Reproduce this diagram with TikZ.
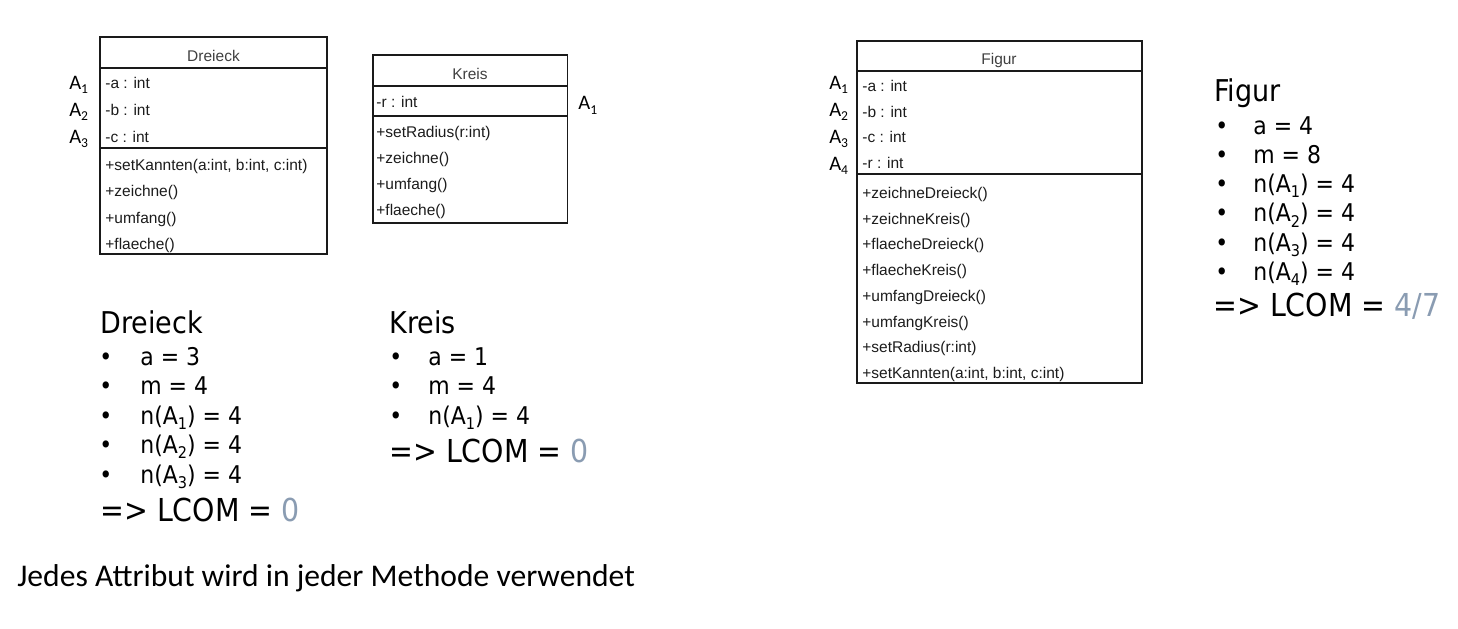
\documentclass[tikz,border=0pt]{standalone}
\usepackage{fontspec}
\setmainfont{Liberation Sans}
\newfontfamily\umlfont{Liberation Sans}
\newfontfamily\tahfont{DejaVu Sans Condensed}
\newfontfamily\calfont{Carlito}
\newcommand\lsub[1]{\raisebox{-0.22em}{\scalebox{0.66}{#1}}}
\definecolor{umltext}{HTML}{1C1C1C}
\definecolor{umlhead}{HTML}{404040}
\definecolor{umlborder}{HTML}{1A1A1A}
\definecolor{lcomblue}{HTML}{8A9CB2}
\tikzset{
  umlbox/.style={draw=umlborder, line width=0.9pt},
  umlsep/.style={draw=umlborder, line width=0.9pt},
  umlrow/.style={anchor=base west, inner sep=0pt, font=\umlfont\fontsize{7.75}{9}\selectfont, text=umltext},
  umlhead/.style={anchor=base, inner sep=0pt, font=\umlfont\fontsize{7.75}{9}\selectfont, text=umlhead},
  alabel/.style={anchor=base east, inner sep=0pt, font=\calfont\fontsize{10.3}{12}\selectfont},
  alabelw/.style={anchor=base west, inner sep=0pt, font=\calfont\fontsize{10.3}{12}\selectfont},
  ttl/.style={anchor=base west, inner sep=0pt, font=\tahfont\fontsize{15}{18}\selectfont},
  itm/.style={anchor=base west, inner sep=0pt, font=\tahfont\fontsize{12.2}{14}\selectfont},
  bul/.style={anchor=base west, inner sep=0pt, font=\tahfont\fontsize{12.2}{14}\selectfont},
  lcom/.style={anchor=base west, inner sep=0pt, font=\tahfont\fontsize{15.8}{18}\selectfont},
  note/.style={anchor=base west, inner sep=0pt, font=\calfont\fontsize{15.8}{18}\selectfont}
}
\begin{document}
\begin{tikzpicture}[x=0.5pt, y=-0.5pt]
\useasboundingbox[fill=white] (0,0) rectangle (1458,628);

% ---------- Dreieck UML ----------
\draw[umlbox] (100,37.3) rectangle (327,254);
\draw[umlsep] (100,67.7) -- (327,67.7);
\draw[umlsep] (100,148.3) -- (327,148.3);
\node[umlhead] (dh) at (213.5,61.7) {Dreieck};
\node[umlrow] (da) at (105,88.5) {-a : int};
\node[umlrow] (db) at (105,115.3) {-b : int};
\node[umlrow] (dc) at (105,142.1) {-c : int};
\node[umlrow] (dm1) at (105,170.5) {+setKannten(a:int, b:int, c:int)};
\node[umlrow] (dm2) at (105,196.9) {+zeichne()};
\node[umlrow] (dm3) at (105,223.3) {+umfang()};
\node[umlrow] (dm4) at (105,249.7) {+flaeche()};
\node[alabel] (dA1) at (88.5,89.3) {A\lsub{1}};
\node[alabel] (dA2) at (88.5,116) {A\lsub{2}};
\node[alabel] (dA3) at (88.5,143) {A\lsub{3}};

% ---------- Kreis UML ----------
\draw[umlbox] (372.7,55) rectangle (567.5,223);
\draw[umlsep] (372.7,86) -- (567.5,86);
\draw[umlsep] (372.7,116) -- (567.5,116);
\node[umlhead] (kh) at (470,79.3) {Kreis};
\node[umlrow] (kr) at (376,107.5) {-r : int};
\node[umlrow] (km1) at (376,137.3) {+setRadius(r:int)};
\node[umlrow] (km2) at (376,163.5) {+zeichne()};
\node[umlrow] (km3) at (376,189.7) {+umfang()};
\node[umlrow] (km4) at (376,215.9) {+flaeche()};
\node[alabelw] (kA1) at (578,109.5) {A\lsub{1}};

% ---------- Figur UML ----------
\draw[umlbox] (856.7,40.7) rectangle (1141.7,382.7);
\draw[umlsep] (856.7,70.7) -- (1141.7,70.7);
\draw[umlsep] (856.7,174) -- (1141.7,174);
\node[umlhead] (fh) at (999,64) {Figur};
\node[umlrow] (fa) at (862,91.5) {-a : int};
\node[umlrow] (fb) at (862,117.1) {-b : int};
\node[umlrow] (fc) at (862,142.7) {-c : int};
\node[umlrow] (fr) at (862,168.3) {-r : int};
\node[umlrow] (fm1) at (862,198.5) {+zeichneDreieck()};
\node[umlrow] (fm2) at (862,224.2) {+zeichneKreis()};
\node[umlrow] (fm3) at (862,249.9) {+flaecheDreieck()};
\node[umlrow] (fm4) at (862,275.6) {+flaecheKreis()};
\node[umlrow] (fm5) at (862,301.3) {+umfangDreieck()};
\node[umlrow] (fm6) at (862,327.0) {+umfangKreis()};
\node[umlrow] (fm7) at (862,352.7) {+setRadius(r:int)};
\node[umlrow] (fm8) at (862,378.4) {+setKannten(a:int, b:int, c:int)};
\node[alabel] (fA1) at (848.5,89) {A\lsub{1}};
\node[alabel] (fA2) at (848.5,116) {A\lsub{2}};
\node[alabel] (fA3) at (848.5,143) {A\lsub{3}};
\node[alabel] (fA4) at (848.5,170) {A\lsub{4}};

% ---------- Dreieck metrics ----------
\node[ttl] (dt) at (100,333.3) {Dreieck};
\node[bul] (db1) at (99,365) {•};
\node[itm] (di1) at (140,365) {a = 3};
\node[bul] (db2) at (99,394.5) {•};
\node[itm] (di2) at (140,394.5) {m = 4};
\node[bul] (db3) at (99,424) {•};
\node[itm] (di3) at (140,424) {n(A\lsub{1}) = 4};
\node[bul] (db4) at (99,453.5) {•};
\node[itm] (di4) at (140,453.5) {n(A\lsub{2}) = 4};
\node[bul] (db5) at (99,483.3) {•};
\node[itm] (di5) at (140,483.3) {n(A\lsub{3}) = 4};
\node[lcom] (dl) at (100,521.7) {=> LCOM = \textcolor{lcomblue}{0}};

% ---------- Kreis metrics ----------
\node[ttl] (kt) at (389,333.3) {Kreis};
\node[bul] (kb1) at (389,365) {•};
\node[itm] (ki1) at (428,365) {a = 1};
\node[bul] (kb2) at (389,394.5) {•};
\node[itm] (ki2) at (428,394.5) {m = 4};
\node[bul] (kb3) at (389,424) {•};
\node[itm] (ki3) at (428,424) {n(A\lsub{1}) = 4};
\node[lcom] (kl) at (389,462) {=> LCOM = \textcolor{lcomblue}{0}};

% ---------- Figur metrics ----------
\node[ttl] (ft) at (1214,101.7) {Figur};
\node[bul] (fb1) at (1215,134) {•};
\node[itm] (fi1) at (1253,134) {a = 4};
\node[bul] (fb2) at (1215,163.3) {•};
\node[itm] (fi2) at (1253,163.3) {m = 8};
\node[bul] (fb3) at (1215,192.6) {•};
\node[itm] (fi3) at (1253,192.6) {n(A\lsub{1}) = 4};
\node[bul] (fb4) at (1215,221.9) {•};
\node[itm] (fi4) at (1253,221.9) {n(A\lsub{2}) = 4};
\node[bul] (fb5) at (1215,251.2) {•};
\node[itm] (fi5) at (1253,251.2) {n(A\lsub{3}) = 4};
\node[bul] (fb6) at (1215,280.5) {•};
\node[itm] (fi6) at (1253,280.5) {n(A\lsub{4}) = 4};
\node[lcom] (fl) at (1213,316.7) {=> LCOM = \textcolor{lcomblue}{4/7}};

% ---------- note ----------
\node[note] (nt) at (17,586) {Jedes Attribut wird in jeder Methode verwendet};
\end{tikzpicture}
\end{document}
